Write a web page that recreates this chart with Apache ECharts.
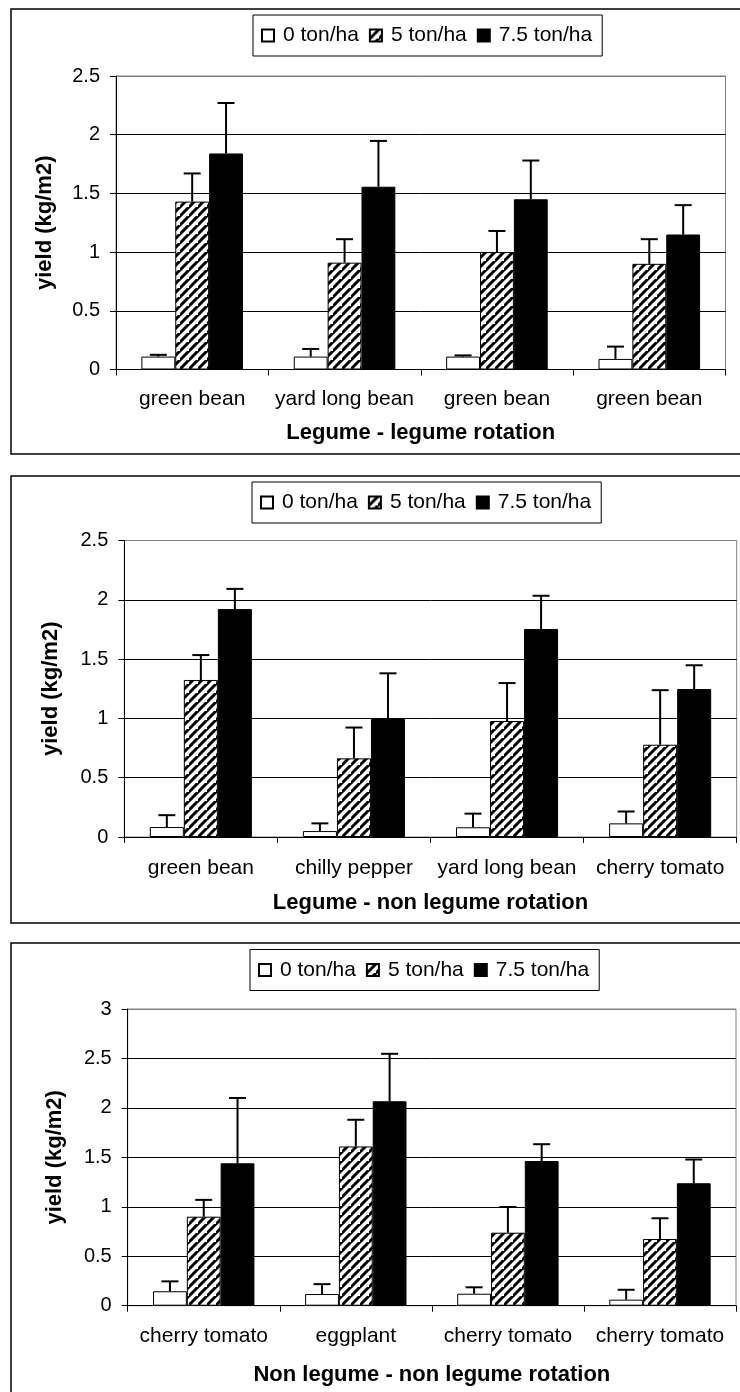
<!DOCTYPE html>
<html><head><meta charset="utf-8">
<script src="https://cdn.jsdelivr.net/npm/echarts@6/dist/echarts.min.js"></script>
<style>html,body{margin:0;padding:0;background:#fff}#c{width:740px;height:1392px}</style>
</head><body><div id="c"></div>
<script>
const seriesNames = ['0 ton/ha', '5 ton/ha', '7.5 ton/ha'];
const cats1 = ['green bean', 'yard long bean', 'green bean', 'green bean'];
const cats2 = ['green bean', 'chilly pepper', 'yard long bean', 'cherry tomato'];
const cats3 = ['cherry tomato', 'eggplant', 'cherry tomato', 'cherry tomato'];
const xTitles = ['Legume - legume rotation', 'Legume - non legume rotation', 'Non legume - non legume rotation'];
const yTitle = 'yield (kg/m2)';
const yMax = [2.5, 2.5, 3];

// Panel 1 means and error (upper) values
const p1_0 = [0.11, 0.11, 0.11, 0.09];
const p1_0err = [0.015, 0.065, 0.01, 0.105];
const p1_5 = [1.43, 0.91, 1.0, 0.90];
const p1_5err = [0.24, 0.20, 0.18, 0.21];
const p1_75 = [1.84, 1.557, 1.45, 1.15];
const p1_75err = [0.43, 0.39, 0.33, 0.25];
// Panel 2
const p2_0 = [0.084, 0.05, 0.082, 0.115];
const p2_0err = [0.10, 0.065, 0.115, 0.10];
const p2_5 = [1.324, 0.663, 0.978, 0.778];
const p2_5err = [0.21, 0.26, 0.32, 0.46];
const p2_75 = [1.922, 0.995, 1.754, 1.248];
const p2_75err = [0.17, 0.385, 0.28, 0.20];
// Panel 3
const p3_0 = [0.146, 0.118, 0.121, 0.061];
const p3_0err = [0.10, 0.10, 0.065, 0.10];
const p3_5 = [0.90, 1.61, 0.738, 0.674];
const p3_5err = [0.17, 0.27, 0.26, 0.21];
const p3_75 = [1.44, 2.067, 1.463, 1.238];
const p3_75err = [0.66, 0.48, 0.17, 0.24];

const panels = [
  {cats: cats1, means: [p1_0, p1_5, p1_75], errs: [p1_0err, p1_5err, p1_75err]},
  {cats: cats2, means: [p2_0, p2_5, p2_75], errs: [p2_0err, p2_5err, p2_75err]},
  {cats: cats3, means: [p3_0, p3_5, p3_75], errs: [p3_0err, p3_5err, p3_75err]}
];

const FONT = "'Liberation Sans', Arial, sans-serif";

function hatch() {
  const s = 9;
  const c = document.createElement('canvas');
  c.width = s; c.height = s;
  const g = c.getContext('2d');
  g.fillStyle = '#fff'; g.fillRect(0, 0, s, s);
  g.strokeStyle = '#000'; g.lineWidth = 3;
  g.beginPath();
  g.moveTo(-2, s + 2); g.lineTo(s + 2, -2);
  g.moveTo(-s / 2 - 2, s / 2 + 2); g.lineTo(s / 2 + 2, -s / 2 - 2);
  g.moveTo(-2 - s, s + 2); g.lineTo(2, -2 + 0);
  g.moveTo(s - 2, 2 * s + 2); g.lineTo(2 * s + 2, s - 2);
  g.stroke();
  return c;
}
const hatchFill = {image: hatch(), repeat: 'repeat'};
const fills = ['#ffffff', hatchFill, '#000000'];

const layout = [
  {grid: {left: 116, top: 76, width: 609.5, height: 293.5}, legend: {left: 253, top: 15}, box: [11, 9, 740, 445], labelMargin: 19, nameGap: 52, yNameGap: 60},
  {grid: {left: 124.3, top: 540.5, width: 612.4, height: 296.5}, legend: {left: 252, top: 482}, box: [11, 476, 740, 447], labelMargin: 20.5, nameGap: 55, yNameGap: 62},
  {grid: {left: 127.7, top: 1009, width: 608.3, height: 296.7}, legend: {left: 250, top: 949.5}, box: [11, 943, 740, 470], labelMargin: 20.5, nameGap: 58, yNameGap: 62}
];

function errRender(k) {
  return function (params, api) {
    const i = api.value(0), m = api.value(1), u = api.value(2);
    const cw = api.size([1, 0])[0];
    const bw = cw / 4.5;
    const p0 = api.coord([i, m]);
    const p1 = api.coord([i, u]);
    const x = p0[0] + (k - 1) * bw;
    const h = 8.5;
    return {type: 'group', children: [
      {type: 'line', shape: {x1: x, y1: p0[1], x2: x, y2: p1[1]}, style: {stroke: '#000', lineWidth: 2}},
      {type: 'line', shape: {x1: x - h, y1: p1[1], x2: x + h, y2: p1[1]}, style: {stroke: '#000', lineWidth: 2}}
    ]};
  };
}

const option = {
  animation: false,
  backgroundColor: '#fff',
  grid: [], xAxis: [], yAxis: [], legend: [], series: [], graphic: []
};

panels.forEach((p, pi) => {
  const L = layout[pi];
  option.grid.push(Object.assign({show: true, borderColor: '#808080', borderWidth: 1, backgroundColor: 'transparent'}, L.grid));
  const nLines = Math.round(yMax[pi] / 0.5) + 1;
  const splitColors = [];
  for (let j = 0; j < nLines; j++) splitColors.push(j === nLines - 1 ? '#808080' : '#000');
  option.xAxis.push({
    type: 'category', gridIndex: pi, data: p.cats,
    axisLine: {show: true, lineStyle: {color: '#000', width: 1}},
    axisTick: {show: true, length: 6, lineStyle: {color: '#000'}},
    axisLabel: {color: '#000', fontSize: 21, fontFamily: FONT, margin: L.labelMargin, interval: 0},
    name: xTitles[pi], nameLocation: 'middle', nameGap: L.nameGap,
    nameTextStyle: {color: '#000', fontSize: 22, fontWeight: 'bold', fontFamily: FONT},
    splitLine: {show: false}
  });
  option.yAxis.push({
    type: 'value', gridIndex: pi, min: 0, max: yMax[pi], interval: 0.5,
    axisLine: {show: true, lineStyle: {color: '#000', width: 1}},
    axisTick: {show: true, length: 6, lineStyle: {color: '#000'}},
    axisLabel: {color: '#000', fontSize: 20, fontFamily: FONT, margin: 16},
    splitLine: {show: true, lineStyle: {color: splitColors, width: 1}},
    name: yTitle, nameLocation: 'middle', nameRotate: 90, nameGap: L.yNameGap,
    nameTextStyle: {color: '#000', fontSize: 22, fontWeight: 'bold', fontFamily: FONT}
  });
  option.legend.push({
    left: L.legend.left, top: L.legend.top, orient: 'horizontal',
    data: seriesNames, icon: 'rect', itemWidth: 12, itemHeight: 12, itemGap: 10,
    padding: [10, 10, 10, 8], borderColor: '#000', borderWidth: 1,
    selectedMode: false,
    textStyle: {color: '#000', fontSize: 21, fontFamily: FONT, padding: [0, 0, 0, 4]}
  });
  seriesNames.forEach((nm, k) => {
    option.series.push({
      type: 'bar', name: nm, xAxisIndex: pi, yAxisIndex: pi,
      data: p.means[k], barGap: '0%', barCategoryGap: '33.333%',
      itemStyle: {color: fills[k], borderColor: '#000', borderWidth: 1},
      emphasis: {disabled: true}
    });
  });
  seriesNames.forEach((nm, k) => {
    option.series.push({
      type: 'custom', xAxisIndex: pi, yAxisIndex: pi, z: 5,
      renderItem: errRender(k),
      data: p.means[k].map((m, i) => [i, m, +(m + p.errs[k][i]).toFixed(3)]),
      silent: true
    });
  });
  const b = L.box;
  option.graphic.push({type: 'rect', shape: {x: b[0], y: b[1], width: b[2], height: b[3]}, style: {fill: 'none', stroke: '#000', lineWidth: 1.5}, silent: true, z: 100});
});

const chart = echarts.init(document.getElementById('c'), null, {renderer: 'canvas'});
chart.setOption(option);
</script>
</body></html>
